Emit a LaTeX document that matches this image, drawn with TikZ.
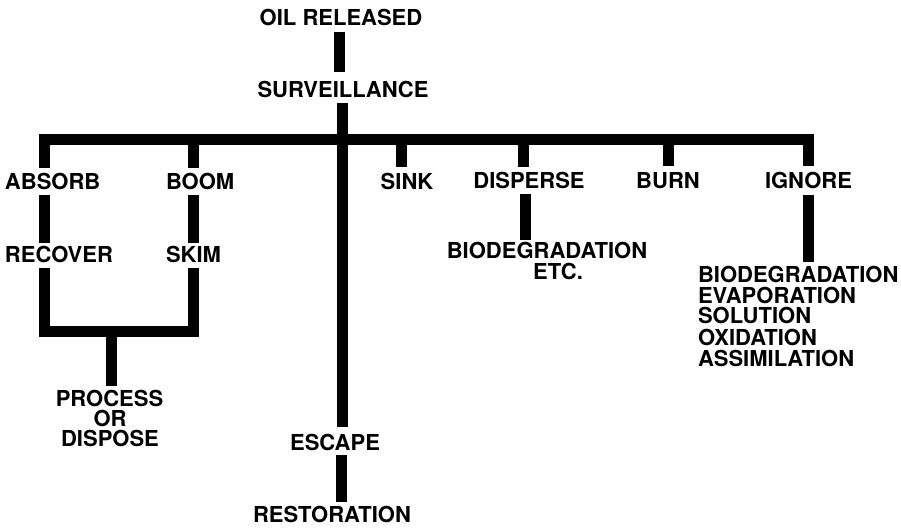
\documentclass[tikz,border=0pt]{standalone}
\usepackage{fontspec}
\setmainfont{TeX Gyre Heros}
\begin{document}
\begin{tikzpicture}[x=1pt,y=-1pt,
  lbl/.style={font=\fontsize{22}{22}\selectfont\bfseries, inner sep=0pt, outer sep=0pt, text height=15.5pt, text depth=0pt},
  bar/.style={line width=11pt, line join=miter, line cap=butt}]
\useasboundingbox[fill=white] (0,0) rectangle (901,528);
% labels
\node[lbl] (oil) at (341,17.5) {OIL RELEASED};
\node[lbl] (surv) at (343,89.5) {SURVEILLANCE};
\node[lbl,anchor=west] (absorb) at (5,182) {ABSORB};
\node[lbl,anchor=west] (boom) at (166,182) {BOOM};
\node[lbl] (sink) at (407,182) {SINK};
\node[lbl] (disperse) at (529,181) {DISPERSE};
\node[lbl] (burn) at (668,181) {BURN};
\node[lbl] (ignore) at (808.5,181) {IGNORE};
\node[lbl,anchor=west] (recover) at (5,255) {RECOVER};
\node[lbl,anchor=west] (skim) at (166,255) {SKIM};
\node[lbl] (process) at (109.5,398.5) {PROCESS};
\node[lbl] (or) at (110,418.5) {OR};
\node[lbl] (dispose) at (110,438.5) {DISPOSE};
\node[lbl] (escape) at (335,442.5) {ESCAPE};
\node[lbl] (restoration) at (332,514.5) {RESTORATION};
\node[lbl] (bioA) at (547,250.5) {BIODEGRADATION};
\node[lbl] (etc) at (558,272) {ETC.};
\node[lbl,anchor=west] (bioB) at (698,274.5) {BIODEGRADATION};
\node[lbl,anchor=west] (evap) at (698,295.5) {EVAPORATION};
\node[lbl,anchor=west] (sol) at (698,316) {SOLUTION};
\node[lbl,anchor=west] (oxid) at (698,337.5) {OXIDATION};
\node[lbl,anchor=west] (assim) at (698,358.5) {ASSIMILATION};
% bar positions
\coordinate (x1) at (339,0);
\coordinate (xM) at (342.5,0);
\coordinate (x3) at (341,0);
\coordinate (xA) at (44,0);
\coordinate (xB) at (193,0);
\coordinate (xS) at (401,0);
\coordinate (xD) at (523,0);
\coordinate (xD2) at (525,0);
\coordinate (xU) at (668,0);
\coordinate (xI) at (808,0);
\coordinate (xP) at (111,0);
\coordinate (hT) at (0,139);
\coordinate (hB) at (0,331);
% connectors
\draw[bar, shorten <=7pt, shorten >=10pt] (oil.south -| x1) -- (surv.north -| x1);
\draw[bar, shorten <=6pt, shorten >=8pt] (surv.south -| xM) -- (escape.north -| xM);
\draw[bar, shorten <=5pt, shorten >=5pt] (escape.south -| x3) -- (restoration.north -| x3);
\draw[bar, shorten <=6pt, shorten >=7pt] (absorb.north -| xA) -- (xA |- hT) -- (xI |- hT) -- (ignore.north -| xI);
\draw[bar, shorten >=6pt] (xB |- hT) -- (boom.north -| xB);
\draw[bar, shorten >=7pt] (xS |- hT) -- (sink.north -| xS);
\draw[bar, shorten >=6pt] (xD |- hT) -- (disperse.north -| xD);
\draw[bar, shorten >=7pt] (xU |- hT) -- (burn.north -| xU);
\draw[bar, shorten <=5pt, shorten >=4pt] (absorb.south -| xA) -- (recover.north -| xA);
\draw[bar, shorten <=5pt, shorten >=4pt] (boom.south -| xB) -- (skim.north -| xB);
\draw[bar, shorten <=5pt, shorten >=5pt] (recover.south -| xA) -- (xA |- hB) -- (xB |- hB) -- (skim.south -| xB);
\draw[bar, shorten >=5pt] (xP |- hB) -- (process.north -| xP);
\draw[bar, shorten <=5pt, shorten >=3pt] (disperse.south -| xD2) -- (bioA.north -| xD2);
\draw[bar, shorten <=6pt, shorten >=5pt] (ignore.south -| xI) -- (bioB.north -| xI);
\end{tikzpicture}
\end{document}
